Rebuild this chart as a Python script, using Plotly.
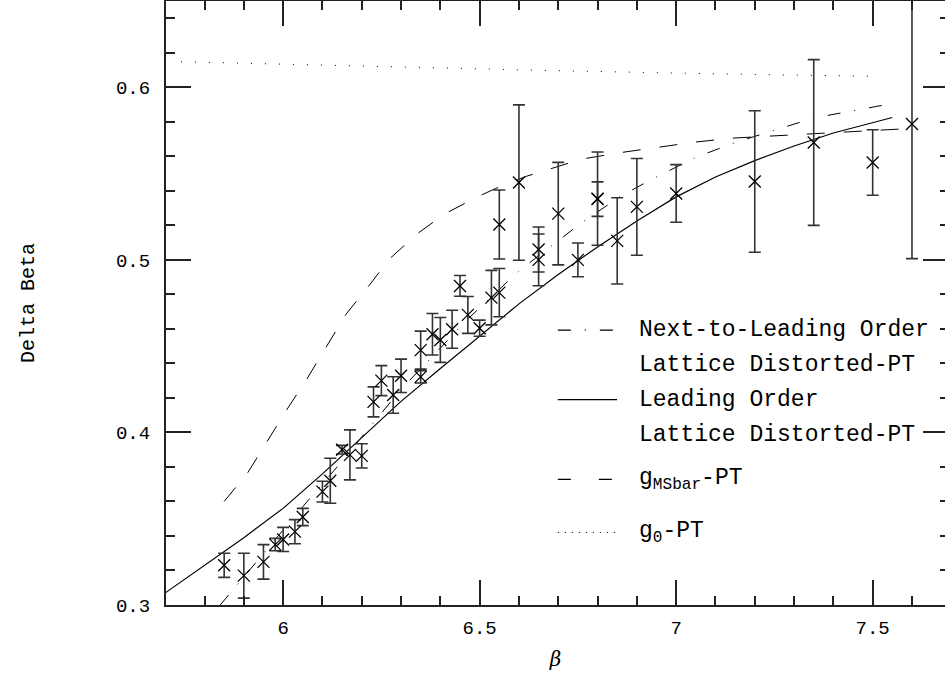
import plotly.graph_objects as go

# measured Delta Beta points
beta = [5.85, 5.90, 5.95, 5.98, 6.00, 6.03, 6.05, 6.10, 6.12, 6.15, 6.17, 6.20,
        6.23, 6.25, 6.28, 6.30, 6.35, 6.35, 6.38, 6.40, 6.43, 6.45, 6.47, 6.50,
        6.53, 6.55, 6.55, 6.60, 6.65, 6.65, 6.70, 6.75, 6.80, 6.80, 6.85, 6.90,
        7.00, 7.20, 7.35, 7.50, 7.60]
dbeta = [0.323, 0.317, 0.325, 0.335, 0.338, 0.3425, 0.351, 0.3657, 0.372, 0.390, 0.387, 0.3864,
         0.4177, 0.430, 0.4217, 0.4328, 0.4322, 0.4477, 0.4569, 0.4536, 0.4598, 0.4849, 0.4681, 0.4604,
         0.4781, 0.481, 0.5205, 0.5448, 0.506, 0.500, 0.5268, 0.500, 0.5352, 0.5355, 0.511, 0.5307,
         0.5385, 0.5454, 0.568, 0.5564, 0.5787]
err = [0.007, 0.013, 0.010, 0.0036, 0.007, 0.007, 0.005, 0.006, 0.013, 0.0025, 0.0145, 0.007,
       0.0087, 0.0087, 0.0106, 0.0097, 0.0036, 0.011, 0.012, 0.013, 0.011, 0.006, 0.0107, 0.0047,
       0.0158, 0.014, 0.020, 0.045, 0.013, 0.015, 0.0297, 0.0098, 0.010, 0.027, 0.025, 0.028,
       0.0167, 0.041, 0.048, 0.019, 0.078]

# Next-to-Leading Order, Lattice Distorted-PT
nlo_x = [5.84, 5.95, 6.05, 6.13, 6.22, 6.30, 6.38, 6.46, 6.60, 6.69, 6.76, 6.86, 6.95, 7.05, 7.15, 7.35, 7.55]
nlo_y = [0.300, 0.330, 0.357, 0.378, 0.403, 0.425, 0.444, 0.4636, 0.4936, 0.5091, 0.5216, 0.5371,
         0.5481, 0.5594, 0.568, 0.5822, 0.5906]

# Leading Order, Lattice Distorted-PT
lo_x = [5.70, 5.80, 5.90, 6.00, 6.10, 6.20, 6.30, 6.40, 6.50, 6.60, 6.70, 6.80, 6.90, 7.00,
        7.10, 7.20, 7.30, 7.40, 7.55]
lo_y = [0.307, 0.323, 0.339, 0.356, 0.376, 0.397, 0.418, 0.437, 0.456, 0.4745, 0.4915, 0.5075, 0.5225, 0.5365,
        0.548, 0.5575, 0.566, 0.5735, 0.5825]

# g_MSbar-PT
ms_x = [5.85, 5.91, 5.96, 6.01, 6.06, 6.11, 6.16, 6.22, 6.27, 6.34, 6.41, 6.49, 6.54, 6.62, 6.69,
        6.76, 6.86, 6.95, 7.04, 7.14, 7.24, 7.33, 7.43, 7.52, 7.57]
ms_y = [0.360, 0.3767, 0.395, 0.4134, 0.4308, 0.450, 0.4685, 0.4855, 0.5004, 0.5149, 0.5265, 0.5360,
        0.5413, 0.5485, 0.5535, 0.5584, 0.5622, 0.5652, 0.568, 0.5705, 0.5717, 0.5729, 0.5739, 0.5748, 0.5758]

# g_0-PT
g0_x = [5.74, 6.20, 6.70, 7.10, 7.52]
g0_y = [0.6148, 0.6122, 0.6096, 0.6078, 0.6063]

nlo_dash = "13px,14px,1px,14px"
ms_dash = "18px,19px"

legend_rows = [
    ("Next-to-Leading Order", nlo_dash),
    ("Lattice Distorted-PT", None),
    ("Leading Order", "solid"),
    ("Lattice Distorted-PT", None),
    ("g<sub>MSbar</sub>-PT", "13px,28px"),
    ("g<sub>0</sub>-PT", "1px,6px"),
]
legend_ypos = [0.455, 0.398, 0.340, 0.281, 0.208, 0.120]

mono = "Liberation Mono"

fig = go.Figure()
fig.add_trace(go.Scatter(x=nlo_x, y=nlo_y, mode="lines", line=dict(color="black", width=1, dash=nlo_dash)))
fig.add_trace(go.Scatter(x=lo_x, y=lo_y, mode="lines", line=dict(color="black", width=1.2)))
fig.add_trace(go.Scatter(x=ms_x, y=ms_y, mode="lines", line=dict(color="black", width=1, dash=ms_dash)))
fig.add_trace(go.Scatter(x=g0_x, y=g0_y, mode="lines", yaxis="y2",
                         line=dict(color="black", width=1, dash="1px,13px")))
fig.add_trace(go.Scatter(
    x=beta, y=dbeta, mode="markers",
    marker=dict(symbol="x-thin-open", size=12, color="black", line=dict(color="black", width=1.3)),
    error_y=dict(type="data", array=err, color="#333", thickness=1.6, width=6),
))

for (txt, dash), yp in zip(legend_rows, legend_ypos):
    fig.add_annotation(x=0.604, y=yp, xref="paper", yref="paper", text=txt, showarrow=False,
                       xanchor="left", yanchor="middle", font=dict(family=mono, size=23, color="black"))
    if dash is not None:
        fig.add_shape(type="line", xref="paper", yref="paper", x0=0.503, x1=0.579, y0=yp, y1=yp,
                      line=dict(color="black", width=1.2, dash=dash))

fig.add_annotation(x=-0.177, y=0.5, xref="paper", yref="paper", text="Delta Beta", textangle=-90,
                   xanchor="center", yanchor="middle",
                   showarrow=False, font=dict(family=mono, size=20, color="black"))

axis_common = dict(showgrid=False, zeroline=False, ticks="inside", tickcolor="#222", tickwidth=1.6,
                   linecolor="#222", linewidth=2, automargin=False)
fig.update_layout(
    width=945, height=677,
    margin=dict(l=166, r=0, t=1, b=72, autoexpand=False),
    plot_bgcolor="white", paper_bgcolor="white",
    showlegend=False,
    xaxis=dict(range=[5.702, 7.684], tickvals=[6, 6.5, 7, 7.5], ticktext=["6", "6.5", "7", "7.5"],
               ticklen=25, showline=True, mirror="ticks",
               minor=dict(dtick=0.1, tick0=5.0, ticks="inside", ticklen=9, tickcolor="#222", tickwidth=1.6),
               tickfont=dict(family=mono, size=19, color="black"), ticklabelstandoff=4,
               title=dict(text="<i>β</i>", font=dict(family="DejaVu Serif", size=20, color="black"), standoff=13),
               **axis_common),
    yaxis=dict(range=[0.3, 0.65], tickvals=[0.3, 0.4, 0.5, 0.6], ticktext=["0.3", "0.4", "0.5", "0.6"],
               ticklen=25, showline=True, mirror=False,
               minor=dict(dtick=0.02, tick0=0.3, ticks="inside", ticklen=9, tickcolor="#222", tickwidth=1.6),
               tickfont=dict(family=mono, size=19, color="black"), ticklabelstandoff=10,
               **axis_common),
    yaxis2=dict(range=[0.3, 0.65], overlaying="y", side="right", tickvals=[0.3, 0.4, 0.5, 0.6],
                ticklen=22, showline=False, showticklabels=False, showgrid=False, zeroline=False,
                ticks="inside", tickcolor="#222", tickwidth=1.6, automargin=False,
                minor=dict(dtick=0.02, tick0=0.3, ticks="inside", ticklen=5, tickcolor="#222", tickwidth=1.6)),
)
fig.write_html("out.html", config={"displayModeBar": False},
               post_script="document.body.style.margin='0';document.body.style.overflow='hidden';")
